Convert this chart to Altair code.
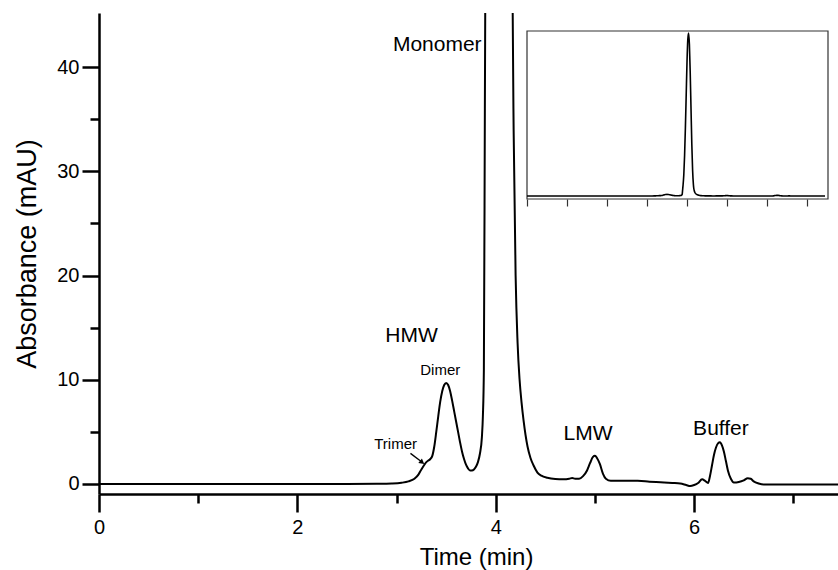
import altair as alt
import pandas as pd

# ---- chromatogram (time in min, absorbance in mAU) ----
time_min = [0.00, 0.50, 1.00, 1.50, 2.00, 2.50, 2.80, 2.95, 3.05, 3.12, 3.18, 3.22,
            3.25, 3.28, 3.30, 3.32, 3.34, 3.36, 3.38, 3.40, 3.42, 3.44, 3.46, 3.48,
            3.50, 3.52, 3.54, 3.56, 3.58, 3.60, 3.62, 3.64, 3.66, 3.68, 3.70, 3.72,
            3.74, 3.76, 3.78, 3.80, 3.82, 3.84, 3.86, 3.87, 3.88, 3.89, 3.90, 3.92,
            3.94, 3.96, 3.98, 4.00, 4.02, 4.04, 4.06, 4.08, 4.10, 4.12, 4.14, 4.16,
            4.17, 4.18, 4.20, 4.22, 4.24, 4.26, 4.28, 4.30, 4.32, 4.35, 4.38, 4.42,
            4.46, 4.52, 4.60, 4.68, 4.74, 4.77, 4.80, 4.84, 4.88, 4.92, 4.95, 4.98,
            5.00, 5.02, 5.05, 5.08, 5.11, 5.16, 5.30, 5.43, 5.55, 5.66, 5.78, 5.86,
            5.92, 5.96, 6.00, 6.04, 6.08, 6.11, 6.14, 6.16, 6.18, 6.20, 6.22, 6.24,
            6.26, 6.28, 6.30, 6.32, 6.34, 6.37, 6.40, 6.45, 6.50, 6.54, 6.57, 6.60,
            6.65, 6.70, 7.00, 7.45]
absorbance = [0.0, 0.0, 0.0, 0.0, 0.0, 0.0, 0.02, 0.05, 0.12, 0.25, 0.5, 0.9,
              1.4, 1.85, 2.1, 2.25, 2.4, 2.7, 3.6, 5.0, 6.5, 7.9, 8.9, 9.5,
              9.7, 9.5, 8.9, 8.0, 7.0, 6.0, 5.0, 4.0, 3.1, 2.4, 1.85, 1.5,
              1.3, 1.3, 1.4, 1.65, 2.1, 2.9, 4.5, 6.5, 11.0, 36.0, 62.0, 130.0,
              250.0, 420.0, 620.0, 820.0, 960.0, 1000.0, 930.0, 760.0, 540.0, 320.0, 160.0, 70.0,
              46.0, 34.0, 20.0, 13.5, 10.0, 7.8, 6.1, 4.7, 3.6, 2.5, 1.8, 1.1,
              0.8, 0.6, 0.48, 0.45, 0.5, 0.58, 0.5, 0.5, 0.75, 1.3, 2.0, 2.6,
              2.7, 2.5, 1.9, 1.0, 0.5, 0.3, 0.3, 0.3, 0.22, 0.16, 0.1, 0.05,
              -0.1, -0.2, -0.1, 0.1, 0.45, 0.3, 0.1, 0.8, 1.8, 2.8, 3.5, 3.9,
              4.0, 3.7, 3.1, 2.2, 1.3, 0.5, 0.15, 0.2, 0.35, 0.55, 0.5, 0.25,
              0.05, -0.05, -0.05, -0.05]

x_tick_values = [0, 1, 2, 3, 4, 5, 6, 7]
y_tick_values = [0, 5, 10, 15, 20, 25, 30, 35, 40]
inset_tick_values = [0, 1, 2, 3, 4, 5, 6, 7]

label_text = ["Monomer", "HMW", "Dimer", "Trimer", "LMW", "Buffer"]
label_time = [3.41, 3.15, 3.44, 2.99, 4.93, 6.27]
label_abs = [42.1, 14.25, 10.9, 3.84, 4.83, 5.28]
label_size = [21, 21, 15, 15, 21, 21]

arrow_time = [3.14, 3.258]
arrow_abs = [2.94, 2.08]

FONT = "Liberation Sans"

curve = pd.DataFrame({"t": time_min, "a": absorbance})
labels = pd.DataFrame({"t": label_time, "a": label_abs, "label": label_text, "fs": label_size})
arrow = pd.DataFrame({"t": arrow_time, "a": arrow_abs})
arrow_tip = arrow.iloc[[1]]

x_main = alt.X(
    "t:Q",
    scale=alt.Scale(domain=[0, 7.45], nice=False, zero=False),
    axis=alt.Axis(
        values=x_tick_values,
        title="Time (min)",
        titleFontSize=24,
        titleX=377,
        labelExpr="datum.value % 2 === 0 ? datum.label : ''",
        tickSize={"condition": {"test": "datum.value % 2 !== 0", "value": 9}, "value": 18},
        labelPadding=5,
        titlePadding=8,
        labelFlush=False,
        labelOverlap=False,
    ),
)
y_main = alt.Y(
    "a:Q",
    scale=alt.Scale(domain=[-0.96, 45.2], nice=False, zero=False),
    axis=alt.Axis(
        values=y_tick_values,
        title="Absorbance (mAU)",
        titleFontSize=27,
        labelExpr="datum.value % 10 === 0 ? datum.label : ''",
        tickSize={"condition": {"test": "datum.value % 10 !== 0", "value": 9}, "value": 17},
        labelPadding=3,
        titlePadding=15,
        labelOverlap=False,
    ),
)

line_main = alt.Chart(curve).mark_line(
    color="black", strokeWidth=2, interpolate="monotone", clip=True
).encode(x=x_main, y=y_main)

text_layer = alt.Chart(labels).mark_text(
    font=FONT, color="black", align="center", baseline="middle"
).encode(x=x_main, y=y_main, text="label:N", size=alt.Size("fs:Q", scale=None))

arrow_line = alt.Chart(arrow).mark_line(color="black", strokeWidth=1.3).encode(x=x_main, y=y_main)
arrow_head = alt.Chart(arrow_tip).mark_point(
    shape="triangle-right", filled=True, size=35, angle=37.6, color="black", opacity=1
).encode(x=x_main, y=y_main)

main = alt.layer(line_main, text_layer, arrow_line, arrow_head)

frame = alt.Chart(alt.Data(values=[{}])).mark_rect(
    filled=False, stroke="#333333", strokeWidth=1.2
).encode(x=alt.value(428), x2=alt.value(729), y=alt.value(18), y2=alt.value(186))

inset_line = alt.Chart(curve).mark_line(
    color="black", strokeWidth=1.6, interpolate="monotone"
).encode(
    x=alt.X(
        "t:Q",
        scale=alt.Scale(domain=[0, 7.5], range=[428, 728], nice=False, zero=False),
        axis=alt.Axis(
            orient="bottom", offset=-295, values=inset_tick_values, labels=False,
            tickSize=7, tickWidth=1.2, tickColor="#333333", domain=False, title=None, grid=False,
        ),
    ),
    y=alt.Y(
        "a:Q",
        scale=alt.Scale(domain=[-18.4, 1012], range=[186, 18], nice=False, zero=False),
        axis=None,
    ),
)

inset = alt.layer(frame, inset_line)

chart = (
    alt.layer(main, inset)
    .resolve_scale(x="independent", y="independent")
    .properties(
        width=739,
        height=481,
        padding={"left": 99, "top": 13, "right": 0, "bottom": 76},
        autosize=alt.AutoSizeParams(type="none"),
        background="white",
    )
    .configure_view(strokeWidth=0)
    .configure_axis(
        domainColor="black", domainWidth=2.5, tickColor="black", tickWidth=2.5,
        labelColor="black", labelFont=FONT, labelFontSize=20,
        titleColor="black", titleFont=FONT, titleFontWeight="normal",
        grid=False,
    )
)

chart.save("out.html", embed_options={"renderer": "svg", "actions": False})
